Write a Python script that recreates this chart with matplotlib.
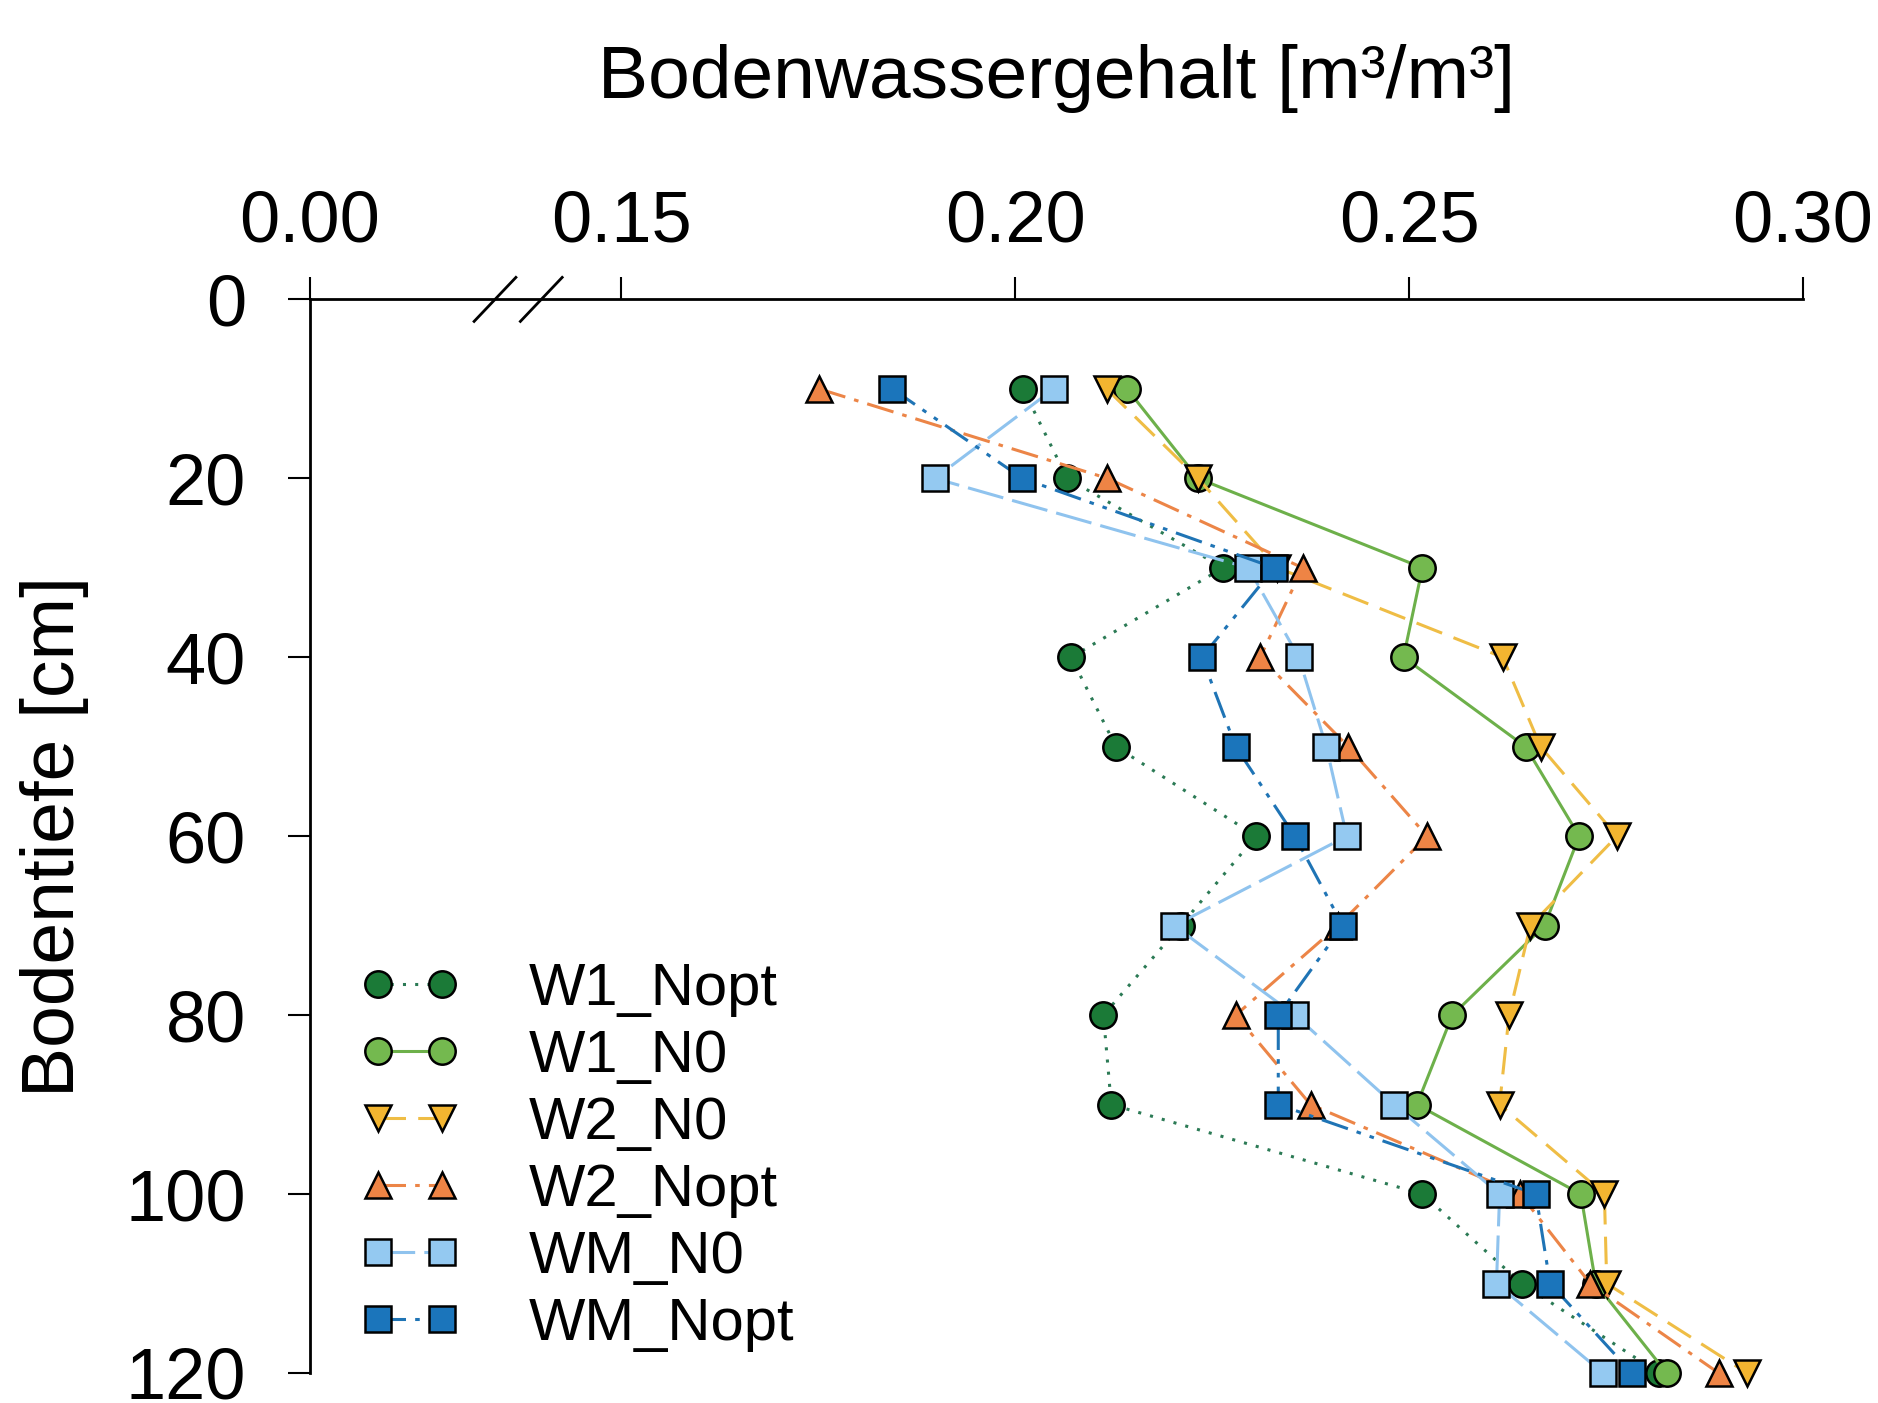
import numpy as np
import matplotlib
matplotlib.use("Agg")
import matplotlib.pyplot as plt
from matplotlib.ticker import FixedLocator, FormatStrFormatter

plt.rcParams['font.family'] = ['Liberation Sans', 'DejaVu Sans']

# Bodentiefe [cm]
tiefe = [10, 20, 30, 40, 50, 60, 70, 80, 90, 100, 110, 120]

# Bodenwassergehalt [m3/m3] je Variante
w1_nopt = [0.2010, 0.2066, 0.2264, 0.2071, 0.2128, 0.2306, 0.2210, 0.2112, 0.2122, 0.2517, 0.2643, 0.2817]
w1_n0 = [0.2142, 0.2232, 0.2517, 0.2493, 0.2648, 0.2716, 0.2672, 0.2555, 0.2510, 0.2718, 0.2737, 0.2827]
w2_n0 = [0.2116, 0.2232, 0.2333, 0.2619, 0.2667, 0.2764, 0.2654, 0.2627, 0.2615, 0.2748, 0.2751, 0.2929]
w2_nopt = [0.1751, 0.2117, 0.2365, 0.2311, 0.2423, 0.2523, 0.2410, 0.2280, 0.2375, 0.2641, 0.2730, 0.2893]
wm_n0 = [0.2049, 0.1898, 0.2296, 0.2360, 0.2395, 0.2421, 0.2202, 0.2355, 0.2481, 0.2615, 0.2611, 0.2746]
wm_nopt = [0.1844, 0.2009, 0.2329, 0.2237, 0.2280, 0.2355, 0.2416, 0.2334, 0.2334, 0.2661, 0.2679, 0.2783]

x_ticks = [0.00, 0.15, 0.20, 0.25, 0.30]
y_ticks = [0, 20, 40, 60, 80, 100, 120]

# Achsenbruch zwischen 0 und 0.13
BRUCH = 0.13
P0 = 0.11046


def vor(v):
    v = np.asarray(v, dtype=float)
    return np.where(v >= BRUCH, v, P0 + v * (BRUCH - P0) / BRUCH)


def zurueck(p):
    p = np.asarray(p, dtype=float)
    return np.where(p >= BRUCH, p, (p - P0) * BRUCH / (BRUCH - P0))


fig = plt.figure(figsize=(18.78, 14.03), dpi=100)
ax = fig.add_axes([0.165, 0.0214, 0.795, 0.7652])

serien = [
    ("W1_Nopt", w1_nopt, 'o', '#1b7a37', '#2b7a55', (0, (1, 3))),
    ("W1_N0", w1_n0, 'o', '#74b94f', '#6db04a', '-'),
    ("W2_N0", w2_n0, 'v', '#f3b530', '#efbd45', (0, (9, 4))),
    ("W2_Nopt", w2_nopt, '^', '#ee8445', '#ec8547', (0, (9, 3, 1.5, 3))),
    ("WM_N0", wm_n0, 's', '#94c9f1', '#8fc3ee', (0, (12, 3))),
    ("WM_Nopt", wm_nopt, 's', '#1b75bb', '#1f74b5', (0, (9, 3, 1.5, 3, 1.5, 3))),
]

for name, werte, m, fc, lc, ls in serien:
    ax.plot(werte, tiefe, linestyle=ls, color=lc, linewidth=2.2,
            marker=m, markersize=19, markerfacecolor=fc,
            markeredgecolor='black', markeredgewidth=1.8,
            label=name, clip_on=False)

ax.set_xscale('function', functions=(vor, zurueck))
ax.set_xlim(0, 0.30)
ax.set_ylim(120, 0)

ax.xaxis.set_major_locator(FixedLocator(x_ticks))
ax.xaxis.set_major_formatter(FormatStrFormatter('%.2f'))
ax.xaxis.set_minor_locator(FixedLocator([]))
ax.set_yticks(y_ticks)

ax.xaxis.tick_top()
ax.xaxis.set_label_position('top')
for s in ['bottom', 'right']:
    ax.spines[s].set_visible(False)
for s in ['top', 'left']:
    ax.spines[s].set_linewidth(2.0)

ax.tick_params(axis='x', direction='out', length=16, width=1.5, pad=15, labelsize=52)
ax.tick_params(axis='y', direction='out', length=16, width=1.5, pad=30, labelsize=52)

ax.set_xlabel("Bodenwassergehalt [m³/m³]", fontsize=54, labelpad=66)
ax.set_ylabel("Bodentiefe [cm]", fontsize=54, labelpad=26)

# Bruchzeichen auf der x-Achse
for xm in [0.124, 0.155]:
    ax.plot([xm - 0.014, xm + 0.014], [1 - 0.0205, 1 + 0.0205], color='black',
            linewidth=2.0, transform=ax.transAxes, clip_on=False)

leg = ax.legend(loc='upper left', bbox_to_anchor=(0.1917, 0.3142),
                bbox_transform=fig.transFigure, frameon=False, fontsize=43,
                numpoints=2, handlelength=1.68, handletextpad=1.15,
                labelspacing=0.2, borderpad=0, borderaxespad=0)

fig.savefig("out.png", dpi=100)
